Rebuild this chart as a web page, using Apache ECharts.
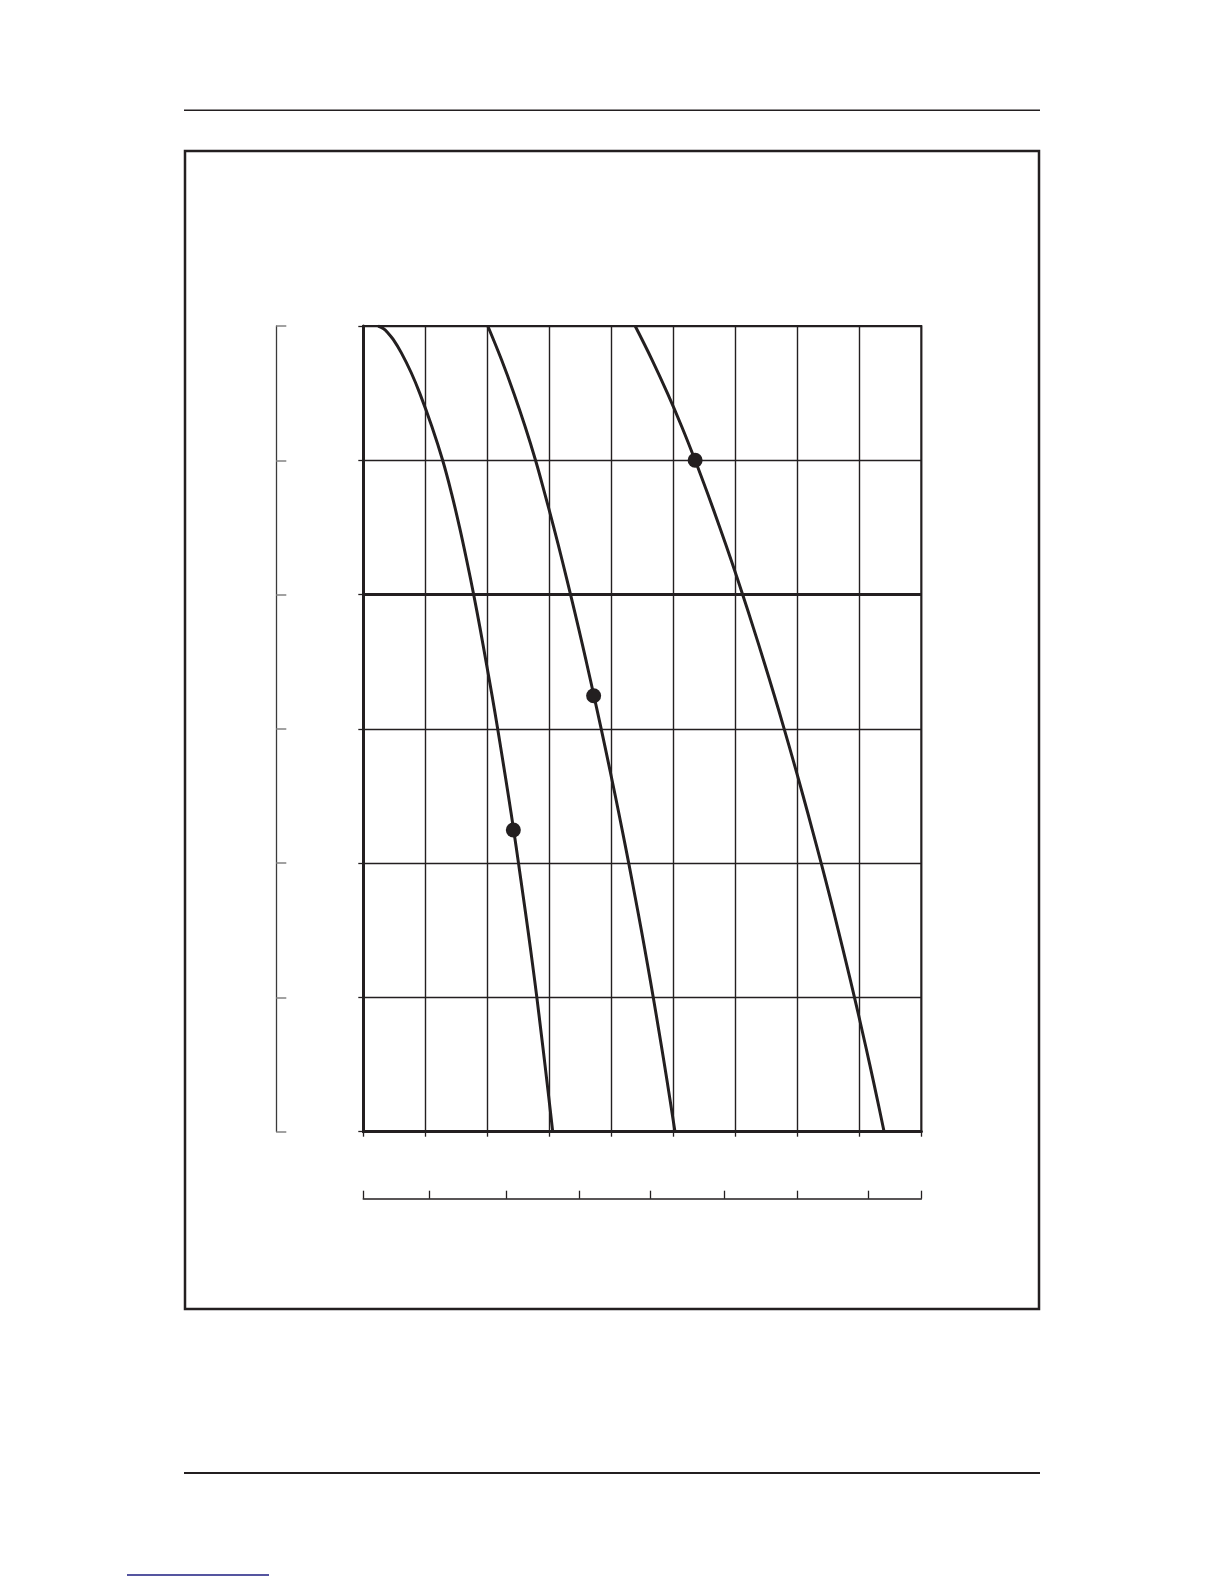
<!DOCTYPE html>
<html>
<head>
<meta charset="utf-8">
<script src="https://cdn.jsdelivr.net/npm/echarts@6/dist/echarts.min.js"></script>
<style>
  html, body { margin: 0; padding: 0; background: #ffffff; }
  #chart { width: 1224px; height: 1584px; }
</style>
</head>
<body>
<div id="chart"></div>
<script>
// ---- data (grid units) ----
const xTicks = [0, 1, 2, 3, 4, 5, 6, 7, 8, 9];
const yTicks = [0, 1, 2, 3, 4, 5, 6];
const bottomScaleTicks = [0, 1.063, 2.31, 3.49, 4.635, 5.824, 6.992, 8.137, 9];
const curveA = [[0.24, 6.0], [0.327, 5.98], [0.395, 5.95], [0.482, 5.9], [0.614, 5.8], [0.775, 5.65], [0.91, 5.5], [1.107, 5.25], [1.28, 5.0], [1.425, 4.75], [1.553, 4.5], [1.67, 4.25], [1.78, 4.0], [1.883, 3.75], [1.98, 3.5], [2.076, 3.25], [2.167, 3.0], [2.255, 2.75], [2.341, 2.5], [2.424, 2.25], [2.503, 2.0], [2.58, 1.75], [2.656, 1.5], [2.729, 1.25], [2.799, 1.0], [2.865, 0.75], [2.93, 0.5], [2.993, 0.25], [3.055, 0]];
const curveB = [[2.008, 6.0], [2.228, 5.75], [2.428, 5.5], [2.611, 5.25], [2.778, 5.0], [2.928, 4.75], [3.072, 4.5], [3.21, 4.25], [3.343, 4.0], [3.472, 3.75], [3.597, 3.5], [3.718, 3.25], [3.837, 3.0], [3.952, 2.75], [4.065, 2.5], [4.174, 2.25], [4.281, 2.0], [4.384, 1.75], [4.485, 1.5], [4.582, 1.25], [4.677, 1.0], [4.768, 0.75], [4.857, 0.5], [4.943, 0.25], [5.027, 0]];
const curveC = [[4.385, 6.0], [4.655, 5.75], [4.905, 5.5], [5.137, 5.25], [5.352, 5.0], [5.555, 4.75], [5.75, 4.5], [5.938, 4.25], [6.118, 4.0], [6.293, 3.75], [6.463, 3.5], [6.628, 3.25], [6.788, 3.0], [6.943, 2.75], [7.094, 2.5], [7.241, 2.25], [7.385, 2.0], [7.525, 1.75], [7.661, 1.5], [7.793, 1.25], [7.922, 1.0], [8.047, 0.75], [8.169, 0.5], [8.286, 0.25], [8.40, 0]];
const dots = [[2.42, 2.247], [3.715, 3.247], [5.352, 5.0]];
const heavyLineY = 4;

const INK = '#231f20';
const chart = echarts.init(document.getElementById('chart'), null, { renderer: 'canvas' });

function curve(data) {
  return {
    type: 'line', data: data, xAxisIndex: 0, yAxisIndex: 0,
    smooth: 0.4, showSymbol: false, symbol: 'none',
    lineStyle: { color: INK, width: 3 }, z: 5, silent: true
  };
}

const option = {
  animation: false,
  backgroundColor: '#ffffff',
  grid: {
    left: 363.3, top: 326, width: 558, height: 805.7,
    show: true, borderColor: INK, borderWidth: 2, backgroundColor: 'transparent',
    containLabel: false, outerBoundsMode: 'none'
  },
  xAxis: [
    {
      type: 'value', min: xTicks[0], max: xTicks[xTicks.length - 1], interval: 1, position: 'bottom',
      axisLine: { show: true, onZero: false, lineStyle: { color: INK, width: 3 } },
      axisTick: { show: true, length: 5, lineStyle: { color: INK, width: 1.3 } },
      axisLabel: { show: false },
      splitLine: { show: true, lineStyle: { color: INK, width: 1.4 } }
    },
    {
      type: 'value', min: xTicks[0], max: xTicks[xTicks.length - 1], position: 'bottom', offset: 67,
      axisLine: { show: true, onZero: false, lineStyle: { color: INK, width: 1.6 } },
      axisTick: { show: true, inside: true, length: 8, customValues: bottomScaleTicks, lineStyle: { color: INK, width: 1.3 } },
      axisLabel: { show: false, customValues: bottomScaleTicks },
      splitLine: { show: false }
    }
  ],
  yAxis: [
    {
      type: 'value', min: yTicks[0], max: yTicks[yTicks.length - 1], interval: 1, position: 'left',
      axisLine: { show: true, onZero: false, lineStyle: { color: INK, width: 3 } },
      axisTick: { show: true, length: 5, lineStyle: { color: INK, width: 1.3 } },
      axisLabel: { show: false },
      splitLine: { show: true, lineStyle: { color: INK, width: 1.4 } }
    },
    {
      type: 'value', min: yTicks[0], max: yTicks[yTicks.length - 1], interval: 1, position: 'left', offset: 87,
      axisLine: { show: true, onZero: false, lineStyle: { color: '#3a3a3a', width: 1.3 } },
      axisTick: { show: true, inside: true, length: 10, lineStyle: { color: '#8a8a8a', width: 1.6 } },
      axisLabel: { show: false },
      splitLine: { show: false }
    }
  ],
  series: [
    Object.assign(curve(curveA), {
      markLine: {
        silent: true, symbol: 'none', label: { show: false },
        lineStyle: { color: INK, width: 3, type: 'solid', opacity: 1 },
        data: [{ yAxis: heavyLineY }]
      }
    }),
    curve(curveB),
    curve(curveC),
    {
      type: 'scatter', data: dots, xAxisIndex: 0, yAxisIndex: 0,
      symbol: 'circle', symbolSize: 15, itemStyle: { color: INK, opacity: 1 }, z: 6, silent: true
    }
  ],
  graphic: [
    { type: 'line', shape: { x1: 184, y1: 110.3, x2: 1040, y2: 110.3 }, style: { stroke: INK, lineWidth: 1.5 }, silent: true },
    { type: 'rect', shape: { x: 185, y: 151, width: 854, height: 1158 }, style: { fill: 'none', stroke: INK, lineWidth: 2.5 }, silent: true, z: -1 },
    { type: 'line', shape: { x1: 184, y1: 1473, x2: 1040, y2: 1473 }, style: { stroke: INK, lineWidth: 2.2 }, silent: true },
    { type: 'line', shape: { x1: 127, y1: 1575, x2: 269, y2: 1575 }, style: { stroke: '#1c1c80', lineWidth: 1.4 }, silent: true }
  ]
};
chart.setOption(option);
</script>
</body>
</html>
